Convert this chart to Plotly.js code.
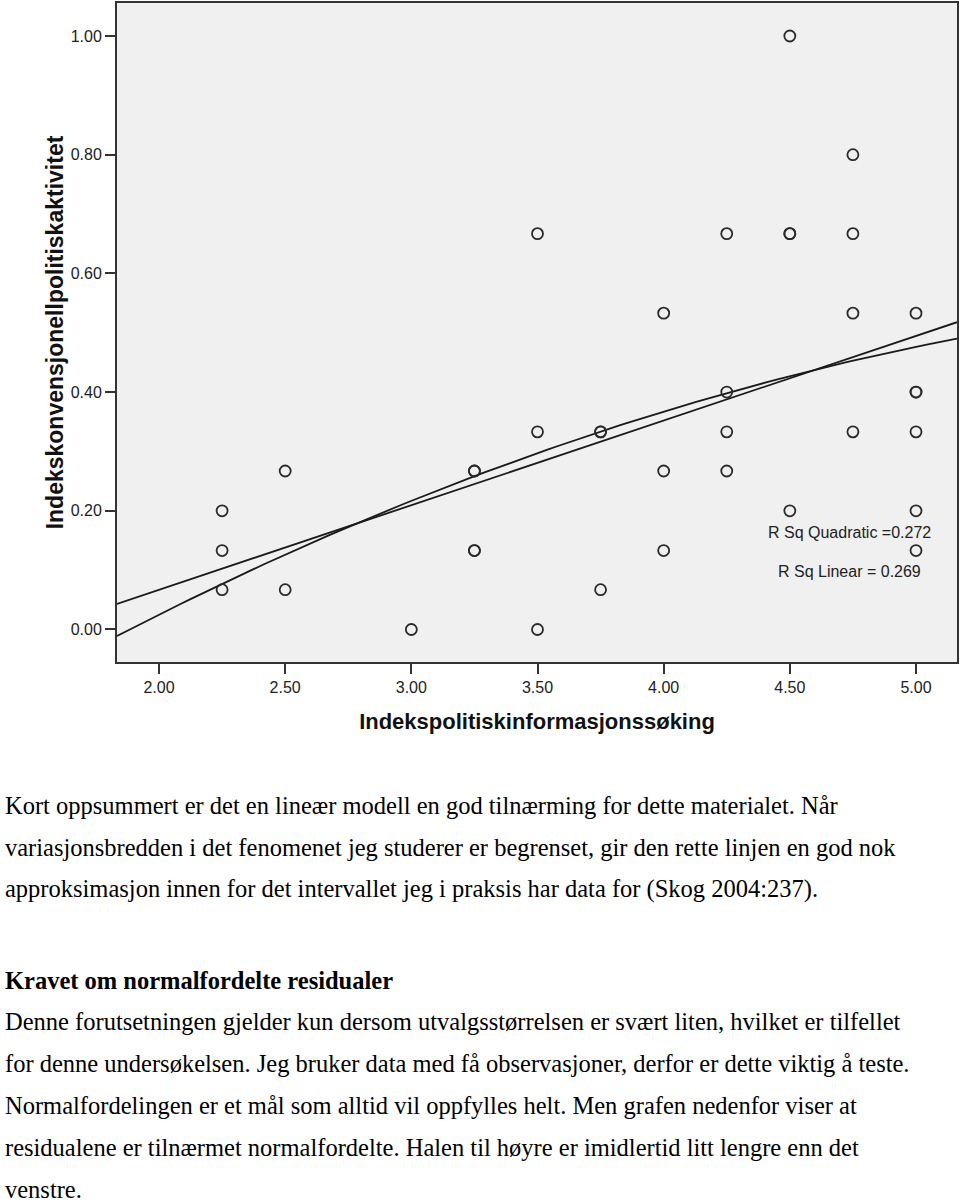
<!DOCTYPE html>
<html>
<head>
<meta charset="utf-8">
<script src="https://cdn.plot.ly/plotly-3.0.1.min.js"></script>
<style>
  html, body { margin: 0; padding: 0; background: #ffffff; }
  body { width: 960px; height: 1201px; position: relative; overflow: hidden; }
  #chart { position: absolute; left: 0; top: 0; width: 960px; height: 760px; }
  .ln { position: absolute; left: 5px; white-space: nowrap; font-family: "Liberation Serif", "Times New Roman", serif;
        font-size: 24.5px; line-height: 24.5px; color: #000; }
  .b { font-weight: bold; }
</style>
</head>
<body>
<div id="chart"></div>
<div id="text"></div>
<script>
// ---- data ----
const infoSearch = [2.25, 2.25, 2.25, 2.5, 2.5, 3.0, 3.25, 3.25, 3.25, 3.25, 3.5, 3.5, 3.5,
                    3.75, 3.75, 3.75, 4.0, 4.0, 4.0, 4.25, 4.25, 4.25, 4.25,
                    4.5, 4.5, 4.5, 4.5, 4.75, 4.75, 4.75, 4.75, 5.0, 5.0, 5.0, 5.0, 5.0, 5.0];
const polActivity = [0.2, 0.133, 0.067, 0.267, 0.067, 0.0, 0.267, 0.267, 0.133, 0.133, 0.667, 0.333, 0.0,
                     0.333, 0.333, 0.067, 0.533, 0.267, 0.133, 0.667, 0.4, 0.333, 0.267,
                     1.0, 0.667, 0.667, 0.2, 0.8, 0.667, 0.533, 0.333, 0.533, 0.4, 0.4, 0.333, 0.2, 0.133];
const linearCoef = [-0.2184, 0.1426];              // a + b*x
const quadraticCoef = [-0.4823, 0.2950, -0.02066]; // a + b*x + c*x^2
const rSqLabels = ["R Sq Quadratic =0.272", "R Sq Linear = 0.269"];
const xTitle = "Indekspolitiskinformasjonssøking";
const yTitle = "Indekskonvensjonellpolitiskaktivitet";

const paragraph1 = [
  "Kort oppsummert er det en lineær modell en god tilnærming for dette materialet. Når",
  "variasjonsbredden i det fenomenet jeg studerer er begrenset, gir den rette linjen en god nok",
  "approksimasjon innen for det intervallet jeg i praksis har data for (Skog 2004:237)."
];
const heading2 = "Kravet om normalfordelte residualer";
const paragraph2 = [
  "Denne forutsetningen gjelder kun dersom utvalgsstørrelsen er svært liten, hvilket er tilfellet",
  "for denne undersøkelsen. Jeg bruker data med få observasjoner, derfor er dette viktig å teste.",
  "Normalfordelingen er et mål som alltid vil oppfylles helt. Men grafen nedenfor viser at",
  "residualene er tilnærmet normalfordelte. Halen til høyre er imidlertid litt lengre enn det",
  "venstre."
];

// ---- chart ----
const xRange = [1.8335, 5.1625];
const yRange = [-0.0548, 1.0556];

function evalPoly(coef, x) { let s = 0; for (let i = 0; i < coef.length; i++) s += coef[i] * Math.pow(x, i); return s; }
const nSamp = 80;
const fitX = [];
for (let i = 0; i <= nSamp; i++) fitX.push(xRange[0] + (xRange[1] - xRange[0]) * i / nSamp);
const linY = fitX.map(x => evalPoly(linearCoef, x));
const quadY = fitX.map(x => evalPoly(quadraticCoef, x));

const traces = [
  { x: fitX, y: linY, type: 'scatter', mode: 'lines', line: { color: '#1a1a1a', width: 1.8 }, hoverinfo: 'skip', showlegend: false },
  { x: fitX, y: quadY, type: 'scatter', mode: 'lines', line: { color: '#1a1a1a', width: 1.8 }, hoverinfo: 'skip', showlegend: false },
  { x: infoSearch, y: polActivity, type: 'scatter', mode: 'markers',
    marker: { symbol: 'circle-open', size: 11, color: '#2a2a2a', line: { width: 1.8, color: '#2a2a2a' } }, showlegend: false }
];

const tickFont = { family: 'Liberation Sans, Arial, sans-serif', size: 16, color: '#222' };
const layout = {
  width: 960, height: 760,
  margin: { l: 117, r: 3, t: 3, b: 98 },
  paper_bgcolor: '#ffffff', plot_bgcolor: '#f0f0f0',
  showlegend: false,
  xaxis: {
    range: xRange, tickvals: [2, 2.5, 3, 3.5, 4, 4.5, 5], tickformat: '.2f',
    showgrid: false, zeroline: false, showline: true, mirror: true, linecolor: '#333', linewidth: 2,
    ticks: 'outside', ticklen: 10, tickwidth: 2, tickcolor: '#333', tickfont: tickFont,
    title: { text: xTitle, font: { family: 'Liberation Sans, Arial, sans-serif', size: 22, color: '#111', weight: 'bold' }, standoff: 18 }
  },
  yaxis: {
    range: yRange, tickvals: [0, 0.2, 0.4, 0.6, 0.8, 1.0], tickformat: '.2f',
    showgrid: false, zeroline: false, showline: true, mirror: true, linecolor: '#333', linewidth: 2,
    ticks: 'outside', ticklen: 10, tickwidth: 2, tickcolor: '#333', tickfont: tickFont,
    title: { text: yTitle, font: { family: 'Liberation Sans, Arial, sans-serif', size: 23, color: '#111', weight: 'bold' }, standoff: 1 }
  },
  annotations: [
    { x: 4.735, y: 0.1626, xref: 'x', yref: 'y', text: rSqLabels[0], showarrow: false, font: tickFont, xanchor: 'center', yanchor: 'middle' },
    { x: 4.735, y: 0.0969, xref: 'x', yref: 'y', text: rSqLabels[1], showarrow: false, font: tickFont, xanchor: 'center', yanchor: 'middle' }
  ]
};

Plotly.newPlot('chart', traces, layout, { displayModeBar: false, staticPlot: true });

// ---- text below chart ----
const textBox = document.getElementById('text');
function addLine(str, baseline, bold) {
  const d = document.createElement('div');
  d.className = 'ln' + (bold ? ' b' : '');
  d.style.top = (baseline - 20.5) + 'px';
  d.textContent = str;
  textBox.appendChild(d);
}
const p1Base = [814, 856, 897];
paragraph1.forEach((s, i) => addLine(s, p1Base[i], false));
addLine(heading2, 989, true);
const p2Base = [1030, 1072, 1114, 1156, 1198];
paragraph2.forEach((s, i) => addLine(s, p2Base[i], false));
</script>
</body>
</html>
